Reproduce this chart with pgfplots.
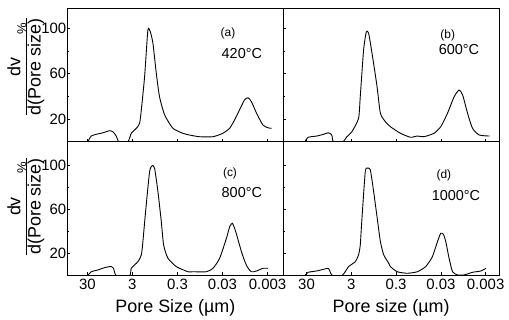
\documentclass[border=0pt]{standalone}
\usepackage{fontspec}
\setmainfont{Liberation Sans}
\usepackage{pgfplots}
\pgfplotsset{compat=1.18}
\pgfplotsset{
  panel/.style={
    scale only axis, width=215.8bp, height=133.7bp,
    ymin=0, x dir=reverse,
    axis line style={line width=0.8bp},
    tick style={line width=0.6bp, black},
    tick align=inside, major tick length=3bp, minor tick length=2bp,
    tick pos=left,
    ytick={20,60,100}, minor ytick={40,80},
    xtick={1.4771,0.4771,-0.5229,-1.5229,-2.5229},
    xticklabels={30,3,0.3,0.03,0.003},
    ticklabel style={font=\fontsize{15}{16}\selectfont},
    yticklabel style={inner sep=1bp},
    /pgf/number format/assume math mode=true,
    label style={font=\fontsize{18}{20}\selectfont},
    xlabel style={yshift=-3bp},
  },
  leftx/.style={xmin=-2.872, xmax=1.917},
  rightx/.style={xmin=-2.824, xmax=1.996},
  curve/.style={black, line width=0.9bp, smooth, tension=0.35},
  ylab/.style={ylabel={\begin{tabular}{@{}c@{}}dv\rlap{\hspace{1.3em}\raisebox{-6bp}{\fontsize{13}{14}\selectfont\%}}\\\hline d(Pore size)\end{tabular}},
    ylabel style={at={(axis description cs:-0.19,#1)}, anchor=center}},
}
\begin{document}
\begin{tikzpicture}
\useasboundingbox (0,0) rectangle (509bp,320bp);
% (a)
\begin{axis}[panel, leftx, ymax=118, at={(67.5bp,178.3bp)}, anchor=south west,
  xticklabels={}, ylab=0.56]
\addplot[curve] coordinates {
(1.466,0) (1.39,5.0) (1.28,6.5) (1.13,7.9) (0.984,9.7) (0.91,8.8) (0.835,5.0) (0.777,0)
(0.577,0) (0.501,7.4) (0.39,11.8) (0.317,16.2) (0.279,28) (0.206,57.3) (0.133,98.5)
(0.079,97) (0.021,86.8) (-0.054,60.3) (-0.125,39.7) (-0.24,23.5) (-0.423,11.8)
(-0.645,7.4) (-0.79,5.9) (-1.01,4.4) (-1.31,4.4) (-1.53,7.4) (-1.68,11.8) (-1.79,19.1)
(-1.90,28) (-2.01,36.8) (-2.09,38.8) (-2.165,35.3) (-2.28,25) (-2.42,14.7) (-2.53,12.3) (-2.61,11.8)};
\node[font=\fontsize{12}{14}\selectfont] at (axis description cs:0.744,0.813) {(a)};
\node[font=\fontsize{14.5}{16}\selectfont] at (axis description cs:0.808,0.656) {420°C};
\end{axis}
% (b)
\begin{axis}[panel, rightx, ymax=118, at={(283.3bp,178.3bp)}, anchor=south west,
  xticklabels={}, yticklabels={}]
\addplot[curve] coordinates {
(1.513,0) (1.44,3.9) (1.25,5.0) (1.10,6.5) (0.989,7.9) (0.913,5.9) (0.877,0)
(0.666,0) (0.576,4.4) (0.463,8.8) (0.315,20.6) (0.277,39.7) (0.203,80.9) (0.142,97)
(0.09,95.6) (0.014,78) (-0.098,48.6) (-0.173,25) (-0.285,17.6) (-0.397,13.2)
(-0.622,7.4) (-0.847,3.9) (-0.997,5.0) (-1.145,4.4) (-1.37,7.4) (-1.52,13.2) (-1.67,25)
(-1.82,39.7) (-1.93,45.6) (-2.01,41.2) (-2.12,25) (-2.23,11.8) (-2.38,5.9) (-2.61,5.0)};
\node[font=\fontsize{12}{14}\selectfont] at (axis description cs:0.762,0.798) {(b)};
\node[font=\fontsize{14.5}{16}\selectfont] at (axis description cs:0.814,0.686) {600°C};
\end{axis}
% (c)
\begin{axis}[panel, leftx, ymax=121, at={(67.5bp,44.5bp)}, anchor=south west,
  ylab=0.516, xlabel={Pore Size (µm)}]
\addplot[curve] coordinates {
(1.466,0) (1.39,3.4) (1.244,5.0) (1.095,7.1) (0.946,8.2) (0.895,6.5) (0.835,0)
(0.539,0) (0.501,6.5) (0.355,12.5) (0.279,18.6) (0.244,30.6) (0.184,57.8) (0.095,94)
(0.035,99.5) (-0.016,97) (-0.09,75.9) (-0.165,48.7) (-0.216,27.6) (-0.312,15.6)
(-0.499,8.0) (-0.756,3.4) (-0.867,3.4) (-1.165,3.4) (-1.312,6.5) (-1.46,15.6)
(-1.61,33.7) (-1.683,44.2) (-1.743,47.3) (-1.816,39.7) (-1.943,21.6) (-2.05,9.5)
(-2.16,3.4) (-2.28,4.1) (-2.42,6.5) (-2.53,6.5)};
\node[font=\fontsize{12}{14}\selectfont] at (axis description cs:0.753,0.766) {(c)};
\node[font=\fontsize{14.5}{16}\selectfont] at (axis description cs:0.808,0.624) {800°C};
\end{axis}
% (d)
\begin{axis}[panel, rightx, ymax=121, at={(283.3bp,44.5bp)}, anchor=south west,
  yticklabels={}, xlabel={Pore size (µm)}]
\addplot[curve] coordinates {
(1.513,0) (1.44,2.9) (1.25,4.1) (1.10,5.6) (0.989,6.5) (0.951,3.4) (0.90,0)
(0.688,0) (0.614,3.4) (0.540,8.0) (0.389,12.5) (0.315,18.6) (0.277,27.6) (0.239,51.8)
(0.165,94) (0.113,97.1) (0.052,95.6) (-0.022,75.9) (-0.112,48.7) (-0.173,30.6)
(-0.247,18.6) (-0.359,11.1) (-0.397,8.0) (-0.548,3.4) (-0.772,2.0) (-0.997,3.4)
(-1.183,8.0) (-1.334,17) (-1.447,30.6) (-1.52,38.2) (-1.58,37.3) (-1.633,30.6)
(-1.707,15.6) (-1.784,3.4) (-1.896,0.5) (-2.04,0.5) (-2.23,2.9) (-2.42,4.1) (-2.53,6.5)};
\node[font=\fontsize{12}{14}\selectfont] at (axis description cs:0.744,0.751) {(d)};
\node[font=\fontsize{14.5}{16}\selectfont] at (axis description cs:0.80,0.60) {1000°C};
\end{axis}
\end{tikzpicture}
\end{document}
